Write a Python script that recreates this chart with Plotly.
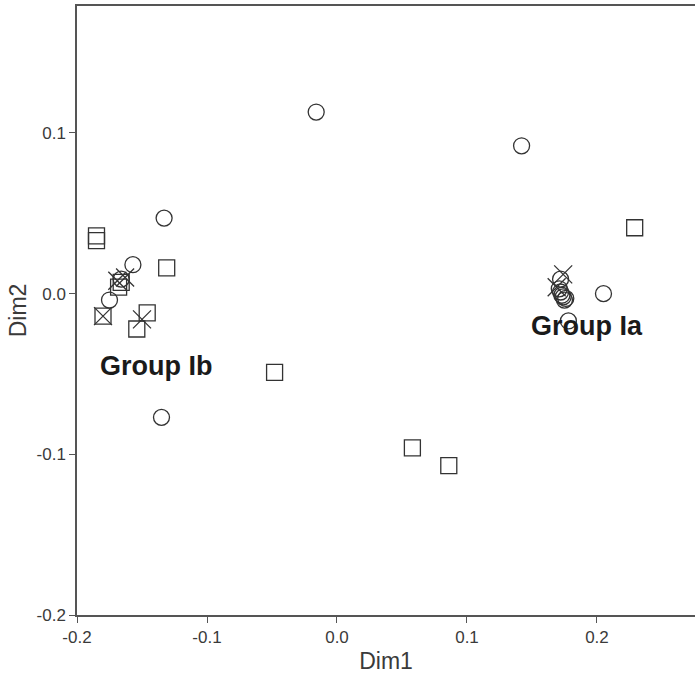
import plotly.graph_objects as go

# Circles
circle_x = [-0.016, 0.142, -0.133, -0.135, -0.157, -0.175, -0.166,
            0.205, 0.178, 0.172, 0.171, 0.172, 0.173, 0.174, 0.175, 0.176]
circle_y = [0.113, 0.092, 0.047, -0.077, 0.018, -0.004, 0.009,
            0.000, -0.017, 0.009, 0.003, 0.001, -0.001, -0.002, -0.004, -0.003]

# Squares
square_x = [-0.185, -0.185, -0.131, 0.229, -0.048, 0.058, 0.086,
            -0.180, -0.154, -0.146, -0.166, -0.168]
square_y = [0.036, 0.033, 0.016, 0.041, -0.049, -0.096, -0.107,
            -0.014, -0.022, -0.012, 0.007, 0.004]

# Crosses
cross_x = [-0.180, -0.150, -0.169, -0.163, 0.174, 0.169]
cross_y = [-0.014, -0.016, 0.008, 0.010, 0.012, 0.004]

group_labels = ["Group Ib", "Group Ia"]
group_x = [-0.139, 0.192]
group_y = [-0.045, -0.020]

x_ticks = [-0.2, -0.1, 0.0, 0.1, 0.2]
x_ticktext = ["-0.2", "-0.1", "0.0", "0.1", "0.2"]
y_ticks = [-0.2, -0.1, 0.0, 0.1]
y_ticktext = ["-0.2", "-0.1", "0.0", "0.1"]

ink = "#333333"

fig = go.Figure()
fig.add_trace(go.Scatter(x=circle_x, y=circle_y, mode="markers",
                         marker=dict(symbol="circle-open", size=16, color=ink,
                                     line=dict(width=1.3, color=ink))))
fig.add_trace(go.Scatter(x=square_x, y=square_y, mode="markers",
                         marker=dict(symbol="square-open", size=16, color=ink,
                                     line=dict(width=1.3, color=ink))))
fig.add_trace(go.Scatter(x=cross_x, y=cross_y, mode="markers",
                         marker=dict(symbol="x-thin-open", size=18, color=ink,
                                     line=dict(width=1.3, color=ink))))

for t, gx, gy in zip(group_labels, group_x, group_y):
    fig.add_annotation(x=gx, y=gy, text="<b>" + t + "</b>", showarrow=False,
                       font=dict(family="Liberation Sans, Arial", size=27, color="#1a1a1a"))

fig.update_layout(
    width=695, height=682,
    margin=dict(l=77, r=0, t=6, b=67),
    plot_bgcolor="white", paper_bgcolor="white",
    showlegend=False,
    font=dict(family="Liberation Sans, Arial", size=17, color="#3a3a3a"),
)
title_font = dict(family="Liberation Sans Narrow, Liberation Sans, Arial", size=23, color="#3a3a3a")
fig.update_xaxes(range=[-0.2, 0.2754], tickvals=x_ticks, ticktext=x_ticktext,
                 showgrid=False, zeroline=False, showline=True, linecolor="#555555",
                 linewidth=1.5, mirror=True, ticks="outside", ticklen=6, tickcolor="#555555",
                 title=dict(text="Dim1", font=title_font, standoff=7))
fig.update_yaxes(range=[-0.2, 0.179], tickvals=y_ticks, ticktext=y_ticktext,
                 showgrid=False, zeroline=False, showline=True, linecolor="#555555",
                 linewidth=1.5, ticks="outside", ticklen=6, tickcolor="#555555",
                 title=dict(text="Dim2", font=title_font, standoff=4))

fig.write_html("out.html")
